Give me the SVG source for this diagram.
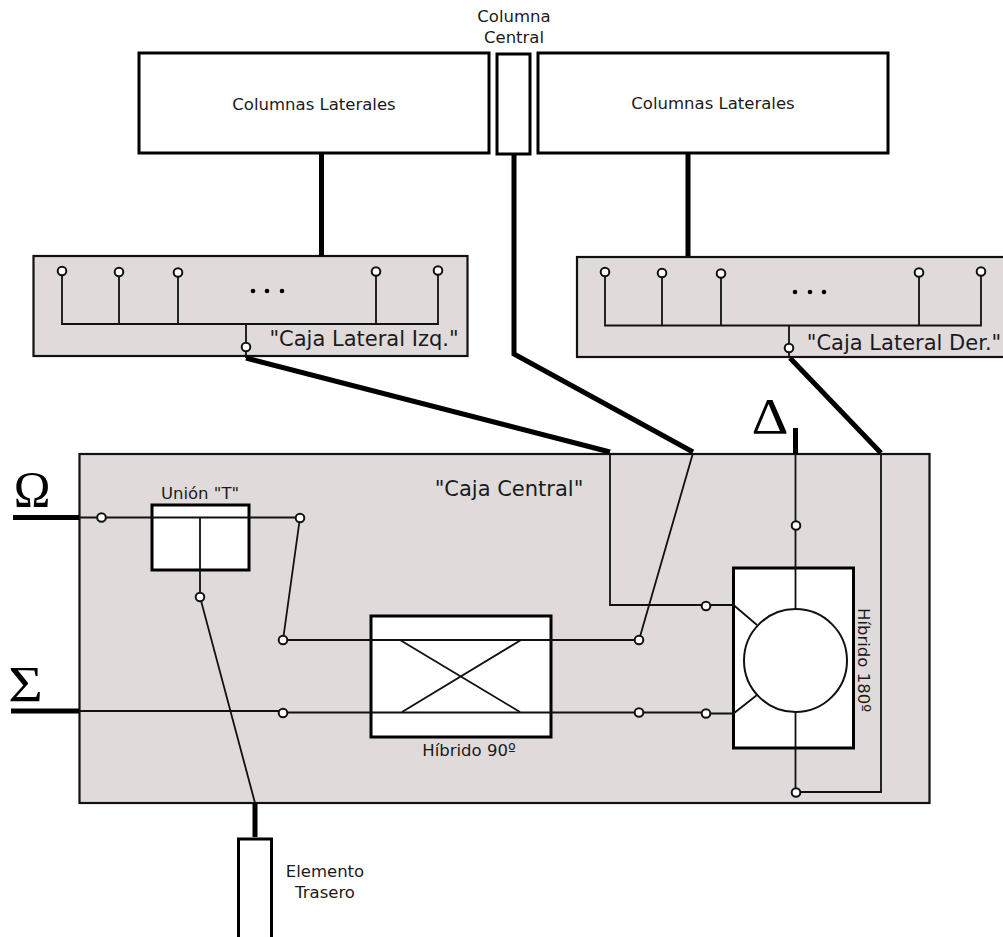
<svg xmlns="http://www.w3.org/2000/svg" width="1003" height="937" viewBox="0 0 1003 937">
<style>
.box{fill:#fff;stroke:#000;stroke-width:3}
.panel{fill:#e0dada;stroke:#111;stroke-width:2.200}
.w{fill:none;stroke:#111;stroke-width:1.800;stroke-linejoin:miter}
.b{fill:none;stroke:#000;stroke-width:5;stroke-linejoin:miter}
.p{fill:#fff;stroke:#111;stroke-width:2}
text{font-family:"DejaVu Sans",Verdana,sans-serif;fill:#1a1a1a;font-size:16.5px;text-anchor:middle}
.lg{font-size:21px}
.sym{font-family:"Liberation Serif","Times New Roman",serif;font-size:48px;fill:#000}
</style>
<rect width="1003" height="937" fill="#fff"/>
<g id="columnas-izq"><rect class="box" x="139" y="53" width="350" height="100"/><text x="314" y="110">Columnas Laterales</text></g>
<g id="columna-central"><rect class="box" x="497" y="54" width="33" height="100"/><text x="514" y="22">Columna</text><text x="514" y="43">Central</text></g>
<g id="columnas-der"><rect class="box" x="538" y="53" width="350" height="100"/><text x="713" y="109">Columnas Laterales</text></g>
<g id="caja-izq"><rect class="panel" x="33.500" y="256" width="434" height="100"/><text class="lg" x="364" y="346">"Caja Lateral Izq."</text>
<circle cx="253" cy="291" r="2.300" fill="#000"/><circle cx="267" cy="291" r="2.300" fill="#000"/><circle cx="282" cy="291" r="2.300" fill="#000"/></g>
<g id="caja-der"><rect class="panel" x="577" y="257" width="430" height="100"/><text class="lg" x="904" y="350">"Caja Lateral Der."</text>
<circle cx="795" cy="292" r="2.300" fill="#000"/><circle cx="810" cy="292" r="2.300" fill="#000"/><circle cx="824" cy="292" r="2.300" fill="#000"/></g>
<g id="caja-central"><rect class="panel" x="79.500" y="454" width="850" height="349"/><text class="lg" x="509" y="496">"Caja Central"</text></g>
<g id="union-t"><rect class="box" x="152" y="505" width="97" height="65"/><text x="200" y="499">Unión "T"</text></g>
<g id="hibrido-90"><rect class="box" x="371" y="616" width="180" height="121"/><text x="469" y="756">Híbrido 90º</text></g>
<g id="hibrido-180"><rect class="box" x="733.500" y="568" width="120" height="180"/><text transform="translate(858,608) rotate(90)" style="text-anchor:start">Híbrido 180º</text></g>
<g id="elemento-trasero"><rect class="box" x="238.500" y="839" width="33" height="110"/><text x="325" y="877">Elemento</text><text x="325" y="898">Trasero</text></g>
<g id="simbolos"><text class="sym" transform="translate(32,506) scale(1.03,1.06)">Ω</text><text class="sym" transform="translate(25.500,701) scale(1.24,1.06)">Σ</text><text class="sym" transform="translate(770,433) scale(1.2,1.06)">Δ</text></g>
<g id="connectors">
<path class="b" d="M321.500 154V256M688 154V256M514 155V354L693 452M246 358L610 452M790 358L881 453M795.500 428V454M13 517.500H79M11 711H79M255 803V837"/>
<path class="w" d="M62 271V324H438V271M119 272V324M178 272V324M376 271V324M246 324V358M605 272V325.500H981V271M662 273V325M721 273V325M919 272V325M789 325V358"/>
<path class="w" d="M80 517.500H300L283 640H639L693 453M200 517.500V597L255 803M80 711H283M283 712.500H706M610 453V605H733.500L757 625M706 713.500H733.500L757 695M795.500 455V609M795.500 712V792H881V454"/>
<path class="w" d="M400 640L520 712M402 712L521 640"/>
</g>
<g id="circulo-180"><circle cx="795.500" cy="660.500" r="51.500" fill="#fff" stroke="#111" stroke-width="2"/></g>
<g id="puertos">
<circle class="p" cx="62" cy="271" r="4.300"/><circle class="p" cx="119" cy="272" r="4.300"/><circle class="p" cx="178" cy="272.500" r="4.300"/><circle class="p" cx="376" cy="271.500" r="4.300"/><circle class="p" cx="438" cy="270.500" r="4.300"/><circle class="p" cx="246" cy="347" r="4.300"/>
<circle class="p" cx="605" cy="272" r="4.300"/><circle class="p" cx="662" cy="273" r="4.300"/><circle class="p" cx="721" cy="273.500" r="4.300"/><circle class="p" cx="919" cy="272.500" r="4.300"/><circle class="p" cx="981" cy="271.500" r="4.300"/><circle class="p" cx="789" cy="348" r="4.300"/>
<circle class="p" cx="101.500" cy="517.500" r="4.300"/><circle class="p" cx="300" cy="518" r="4.300"/><circle class="p" cx="200" cy="597" r="4.300"/><circle class="p" cx="283" cy="640" r="4.300"/><circle class="p" cx="283" cy="713" r="4.300"/><circle class="p" cx="639" cy="640" r="4.300"/><circle class="p" cx="639" cy="712.500" r="4.300"/><circle class="p" cx="706" cy="606" r="4.300"/><circle class="p" cx="706" cy="713.500" r="4.300"/><circle class="p" cx="796" cy="525.500" r="4.300"/><circle class="p" cx="796" cy="792.500" r="4.300"/>
</g>
</svg>
